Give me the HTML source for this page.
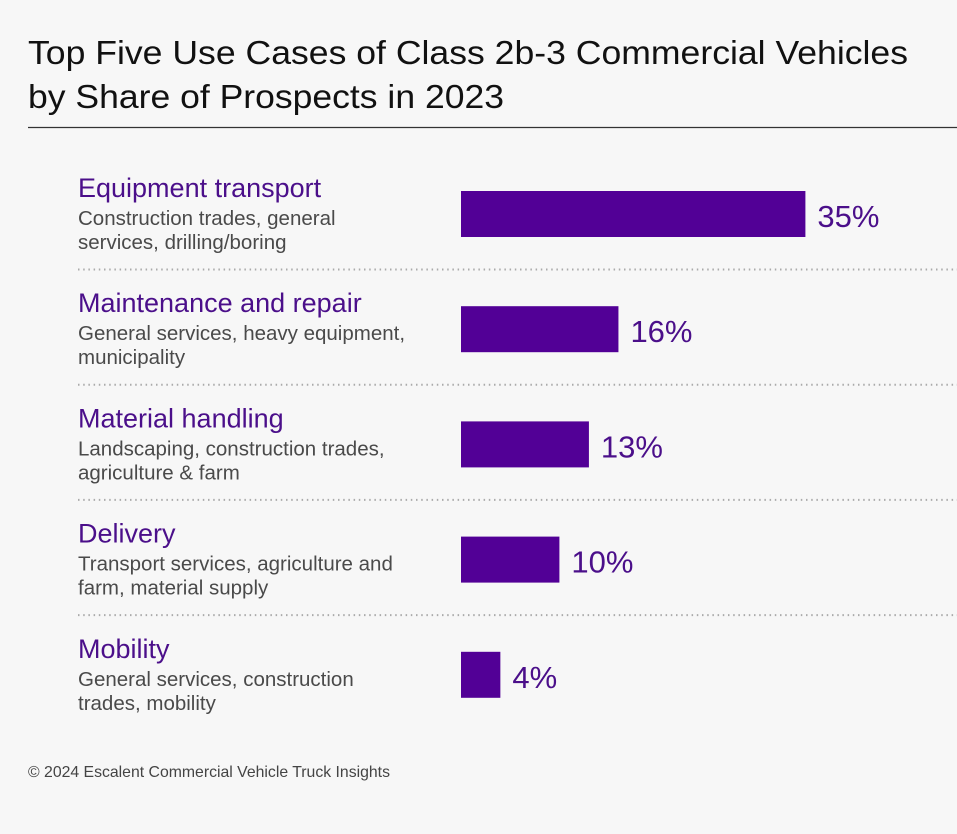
<!DOCTYPE html>
<html><head><meta charset="utf-8"><style>
html,body{margin:0;padding:0;background:#f7f7f7;}
svg{display:block;font-family:"Liberation Sans",sans-serif;}
</style></head><body>
<svg width="957" height="834" viewBox="0 0 957 834">
<rect width="957" height="834" fill="#f7f7f7"/>
<text x="28" y="64" font-size="33" fill="#111" textLength="880" lengthAdjust="spacingAndGlyphs">Top Five Use Cases of Class 2b-3 Commercial Vehicles</text>
<text x="28" y="108" font-size="33" fill="#111" textLength="476" lengthAdjust="spacingAndGlyphs">by Share of Prospects in 2023</text>
<line x1="28" y1="127.5" x2="957" y2="127.5" stroke="#333" stroke-width="1.2"/>
<g id="rows"></g>
<text x="28" y="777" font-size="15.8" fill="#444">© 2024 Escalent Commercial Vehicle Truck Insights</text>
</svg>
<script>
const categories = ["Equipment transport","Maintenance and repair","Material handling","Delivery","Mobility"];
const subtitles1 = ["Construction trades, general","General services, heavy equipment,","Landscaping, construction trades,","Transport services, agriculture and","General services, construction"];
const subtitles2 = ["services, drilling/boring","municipality","agriculture & farm","farm, material supply","trades, mobility"];
const values = [35,16,13,10,4];
const valueLabels = ["35%","16%","13%","10%","4%"];

const NS="http://www.w3.org/2000/svg";
const g=document.getElementById('rows');
const x0=461, pxPer=9.84, rowTop=191, rowStep=115.2, barH=46;
const xScale=v=>v*pxPer;
const yScale=i=>rowTop+i*rowStep;
function mk(tag,attrs,text){const e=document.createElementNS(NS,tag);for(const k in attrs)e.setAttribute(k,attrs[k]);if(text!=null)e.textContent=text;g.appendChild(e);return e;}
categories.forEach((c,i)=>{
  const y=yScale(i);
  const h=mk('text',{x:78,y:y+6,'font-size':27,fill:'#4b0f8a'},c);
  
  
  const s1=mk('text',{x:78,y:y+34,'font-size':20.5,fill:'#4a4a4a'},subtitles1[i]);
  
  
  const s2=mk('text',{x:78,y:y+58,'font-size':20.5,fill:'#4a4a4a'},subtitles2[i]);
  
  
  const w=xScale(values[i]);
  const b=mk('rect',{x:x0,y:y,width:w,height:barH,fill:'#520096'});
  
  
  const v=mk('text',{x:x0+w+12,y:y+36,'font-size':31,fill:'#4b0f8a','font-weight':'300'},valueLabels[i]);
  
  
  if(i<categories.length-1){
    const l=mk('line',{x1:78,y1:y+78.5,x2:957,y2:y+78.5,stroke:'#aaa','stroke-width':2,'stroke-dasharray':'1.5 3.7'});
    
    
  }
});
</script>
</body></html>
